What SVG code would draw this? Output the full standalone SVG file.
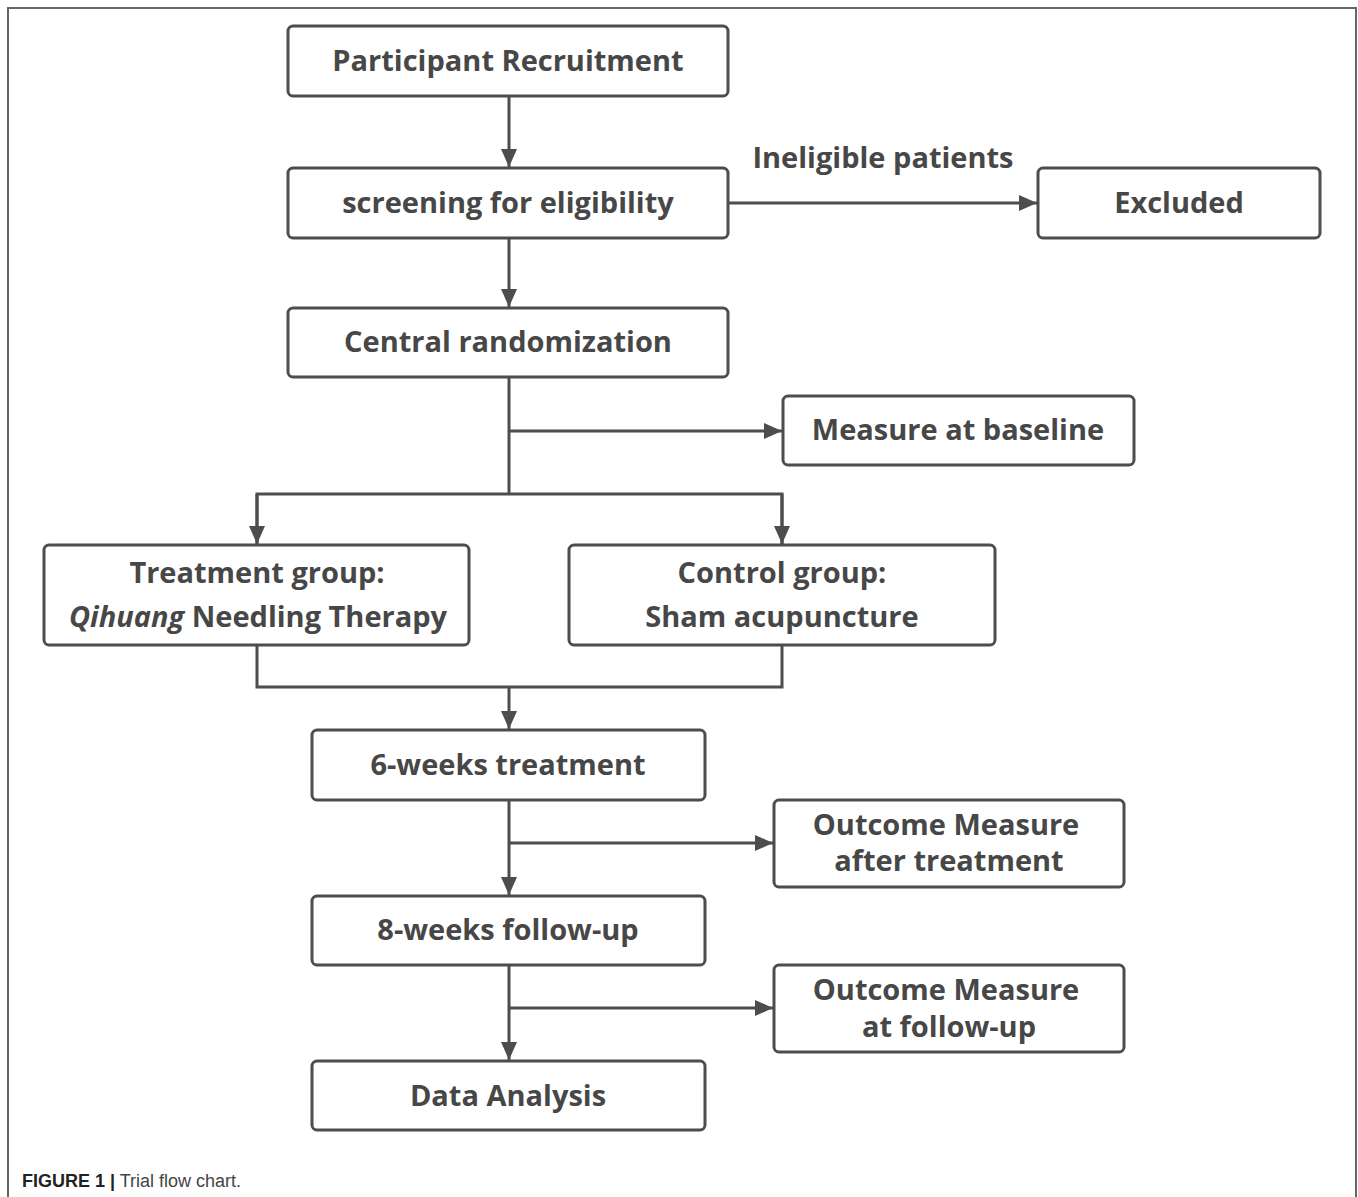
<svg xmlns="http://www.w3.org/2000/svg" width="1358" height="1197" viewBox="0 0 1358 1197">
<style>
.box{fill:#fff;stroke:#4d4d4d;stroke-width:3}
.t{font-family:"Open Sans","Noto Sans",sans-serif;font-weight:bold;font-size:29px;fill:#474747;text-anchor:middle}
.c{fill:none;stroke:#4d4d4d;stroke-width:3}
.cap{font-family:"Liberation Sans",Arial,sans-serif;font-size:18px;fill:#444}
</style>
<defs>
<marker id="ah" markerWidth="18" markerHeight="16" refX="18" refY="8" orient="auto" markerUnits="userSpaceOnUse">
<path d="M0,0 L18,8 L0,16 Z" fill="#4d4d4d"/>
</marker>
</defs>
<rect width="1358" height="1197" fill="#fff"/>
<path d="M8,1197 V8 H1356 V1197" fill="none" stroke="#666" stroke-width="2"/>
<g id="connectors">
<path class="c" d="M509,96 V167" marker-end="url(#ah)"/>
<path class="c" d="M509,238 V307" marker-end="url(#ah)"/>
<path class="c" d="M728,203 H1037" marker-end="url(#ah)"/>
<path class="c" d="M509,377 V494"/>
<path class="c" d="M509,431 H782" marker-end="url(#ah)"/>
<path class="c" d="M257,544 V494 H782 V544"/>
<path class="c" d="M257,494 V544" marker-end="url(#ah)"/>
<path class="c" d="M782,494 V544" marker-end="url(#ah)"/>
<path class="c" d="M257,645 V687 H782 V645"/>
<path class="c" d="M509,687 V729" marker-end="url(#ah)"/>
<path class="c" d="M509,800 V895" marker-end="url(#ah)"/>
<path class="c" d="M509,843 H773" marker-end="url(#ah)"/>
<path class="c" d="M509,965 V1060" marker-end="url(#ah)"/>
<path class="c" d="M509,1008 H773" marker-end="url(#ah)"/>
<text class="t" x="883" y="168">Ineligible patients</text>
</g>
<g id="recruit"><rect class="box" x="288" y="26" width="440" height="70" rx="5"/><text class="t" x="508" y="71">Participant Recruitment</text></g>
<g id="screening"><rect class="box" x="288" y="168" width="440" height="70" rx="5"/><text class="t" x="508" y="213">screening for eligibility</text></g>
<g id="excluded"><rect class="box" x="1038" y="168" width="282" height="70" rx="5"/><text class="t" x="1179" y="213">Excluded</text></g>
<g id="random"><rect class="box" x="288" y="308" width="440" height="69" rx="5"/><text class="t" x="508" y="352">Central randomization</text></g>
<g id="baseline"><rect class="box" x="783" y="396" width="351" height="69" rx="5"/><text class="t" x="958" y="440">Measure at baseline</text></g>
<g id="treatment"><rect class="box" x="44" y="545" width="425" height="100" rx="5"/><text class="t" x="257" y="583">Treatment group:</text><text class="t" x="258" y="627"><tspan font-style="italic">Qihuang</tspan> Needling Therapy</text></g>
<g id="control"><rect class="box" x="569" y="545" width="426" height="100" rx="5"/><text class="t" x="782" y="583">Control group:</text><text class="t" x="782" y="627">Sham acupuncture</text></g>
<g id="weeks6"><rect class="box" x="312" y="730" width="393" height="70" rx="5"/><text class="t" x="508" y="775">6-weeks treatment</text></g>
<g id="outcome1"><rect class="box" x="774" y="800" width="350" height="87" rx="5"/><text class="t" x="946" y="835">Outcome Measure</text><text class="t" x="949" y="871">after treatment</text></g>
<g id="weeks8"><rect class="box" x="312" y="896" width="393" height="69" rx="5"/><text class="t" x="508" y="940">8-weeks follow-up</text></g>
<g id="outcome2"><rect class="box" x="774" y="965" width="350" height="87" rx="5"/><text class="t" x="946" y="1000">Outcome Measure</text><text class="t" x="949" y="1037">at follow-up</text></g>
<g id="analysis"><rect class="box" x="312" y="1061" width="393" height="69" rx="5"/><text class="t" x="508" y="1106">Data Analysis</text></g>
<text class="cap" x="22" y="1187"><tspan font-weight="bold" fill="#222">FIGURE 1 |</tspan> Trial flow chart.</text>
</svg>
